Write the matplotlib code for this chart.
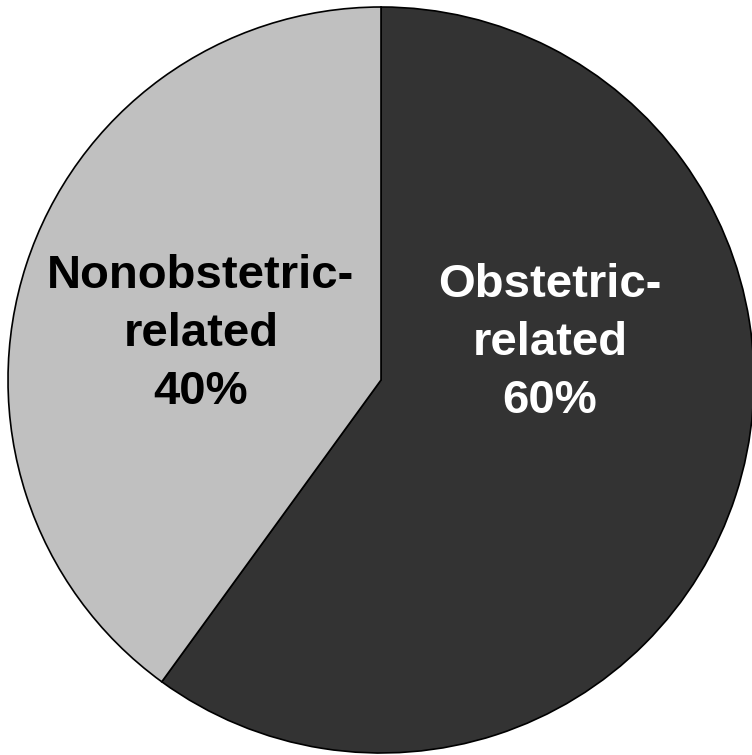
import matplotlib.pyplot as plt

labels = ["Obstetric-\nrelated\n60%", "Nonobstetric-\nrelated\n40%"]
shares = [60, 40]
colors = ["#333333", "#c0c0c0"]
text_colors = ["white", "black"]

plt.rcParams['font.family'] = ['Liberation Sans', 'DejaVu Sans']

fig = plt.figure(figsize=(7.52, 7.55), dpi=100)
ax = fig.add_axes([0, 0, 1, 1])

cx, cy, r = 381, 375, 373
wedges, _ = ax.pie(shares, colors=colors, startangle=90, counterclock=False,
                   radius=1, wedgeprops=dict(edgecolor="black", linewidth=1.2))

ax.text(0.453, 0.099, labels[0], color=text_colors[0], ha="center", va="center",
        fontsize=34, fontweight="bold", linespacing=1.42)
ax.text(-0.483, 0.123, labels[1], color=text_colors[1], ha="center", va="center",
        fontsize=34, fontweight="bold", linespacing=1.42)

ax.set_xlim(-cx / r, (752 - cx) / r)
ax.set_ylim(-cy / r, (755 - cy) / r)
ax.set_aspect("auto")
ax.axis("off")

fig.savefig("out.png", dpi=100)
